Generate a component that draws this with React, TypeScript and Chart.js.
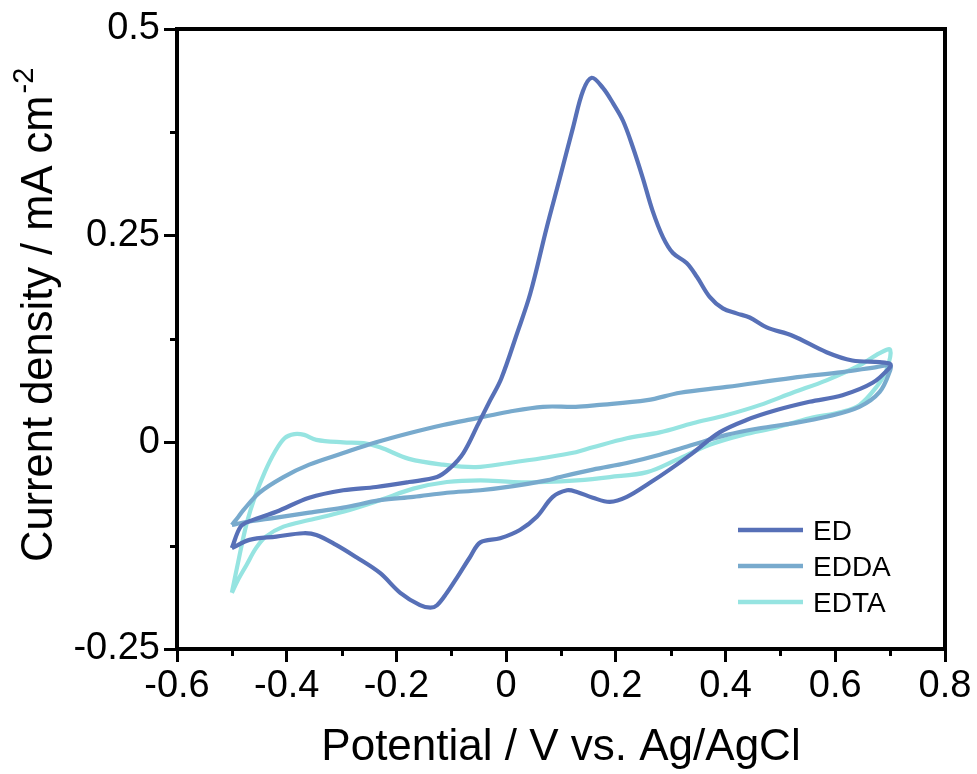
import React, { useEffect, useRef } from 'react';
import { Chart, registerables } from 'chart.js';

Chart.register(...registerables);

// ---- Data (Potential V vs. Ag/AgCl, current density mA cm^-2), closed CV loops ----
const edV = [
  -0.5, -0.484, -0.466, -0.419, -0.359, -0.297, -0.237, -0.177, -0.126, -0.102, -0.078, -0.051, -0.029, -0.009,
  0.02, 0.044, 0.074, 0.098, 0.122, 0.14, 0.156, 0.176, 0.195, 0.213, 0.231, 0.249, 0.267, 0.286, 0.304, 0.329,
  0.348, 0.371, 0.395, 0.42, 0.444, 0.475, 0.522, 0.584, 0.631, 0.681, 0.7,
  0.7, 0.668, 0.613, 0.553, 0.493, 0.438, 0.389, 0.34, 0.298, 0.262, 0.22, 0.189, 0.158, 0.129, 0.111, 0.085,
  0.056, 0.025, -0.011, -0.047, -0.066, -0.089, -0.108, -0.126, -0.138, -0.157, -0.193, -0.23, -0.273, -0.31,
  -0.346, -0.37, -0.419, -0.468, -0.5,
];
const edI = [
  -0.128, -0.102, -0.095, -0.084, -0.067, -0.058, -0.054, -0.048, -0.042, -0.031, -0.013, 0.022, 0.051, 0.077,
  0.132, 0.18, 0.26, 0.32, 0.381, 0.425, 0.441, 0.429, 0.41, 0.389, 0.357, 0.32, 0.28, 0.248, 0.229, 0.217,
  0.2, 0.176, 0.162, 0.156, 0.151, 0.139, 0.129, 0.109, 0.099, 0.097, 0.095,
  0.091, 0.072, 0.057, 0.049, 0.039, 0.027, 0.012, -0.013, -0.033, -0.049, -0.066, -0.072, -0.067, -0.06, -0.058, -0.066,
  -0.09, -0.106, -0.116, -0.121, -0.139, -0.163, -0.182, -0.197, -0.2, -0.197, -0.182, -0.158, -0.139, -0.124,
  -0.112, -0.11, -0.114, -0.118, -0.128,
];

const eddaV = [
  -0.5, -0.488, -0.479, -0.45, -0.406, -0.359, -0.297, -0.237, -0.177, -0.115, -0.055, 0.005, 0.067, 0.127, 0.165,
  0.257, 0.317, 0.402, 0.522, 0.613, 0.675, 0.7,
  0.7, 0.681, 0.644, 0.584, 0.522, 0.462, 0.402, 0.34, 0.28, 0.22, 0.158, 0.098, 0.074, 0.013, -0.047, -0.108,
  -0.169, -0.23, -0.297, -0.359, -0.419, -0.479, -0.5,
];
const eddaI = [
  -0.1, -0.09, -0.082, -0.061, -0.042, -0.027, -0.013, 0.0, 0.011, 0.021, 0.029, 0.037, 0.043, 0.043, 0.045,
  0.051, 0.06, 0.067, 0.078, 0.085, 0.091, 0.093,
  0.087, 0.061, 0.043, 0.031, 0.023, 0.017, 0.009, -0.003, -0.015, -0.025, -0.033, -0.042, -0.046, -0.053, -0.058, -0.061,
  -0.066, -0.07, -0.079, -0.085, -0.091, -0.097, -0.1,
];

const edtaV = [
  -0.5, -0.487, -0.473, -0.458, -0.44, -0.422, -0.404, -0.386, -0.368, -0.346, -0.297, -0.26, -0.23, -0.177, -0.115,
  -0.055, 0.005, 0.067, 0.127, 0.158, 0.22, 0.28, 0.34, 0.402, 0.462, 0.522, 0.584, 0.644, 0.681, 0.7,
  0.693, 0.675, 0.644, 0.613, 0.553, 0.493, 0.431, 0.371, 0.311, 0.257, 0.189, 0.129, 0.074, 0.013, -0.047, -0.108,
  -0.169, -0.23, -0.297, -0.359, -0.406, -0.438, -0.456, -0.473, -0.49, -0.5,
];
const edtaI = [
  -0.182, -0.14, -0.098, -0.066, -0.036, -0.012, 0.005, 0.01, 0.009, 0.003, 0.0, -0.001, -0.006, -0.02, -0.027,
  -0.03, -0.025, -0.019, -0.012, -0.006, 0.005, 0.012, 0.023, 0.033, 0.045, 0.06, 0.075, 0.093, 0.108, 0.112,
  0.087, 0.067, 0.045, 0.037, 0.029, 0.018, 0.009, -0.003, -0.021, -0.036, -0.042, -0.046, -0.048, -0.048, -0.046, -0.048,
  -0.056, -0.07, -0.084, -0.094, -0.102, -0.114, -0.128, -0.148, -0.168, -0.182,
];

const seriesNames = ['ED', 'EDDA', 'EDTA'];
const seriesColors = ['#5770b7', '#78aacd', '#96e4e1'];
const xTicks = [-0.6, -0.4, -0.2, 0, 0.2, 0.4, 0.6, 0.8];
const xMinorTicks = [-0.5, -0.3, -0.1, 0.1, 0.3, 0.5, 0.7];
const yTicks = [-0.25, 0, 0.25, 0.5];
const yMinorTicks = [-0.125, 0.125, 0.375];
const xTitle = 'Potential / V vs. Ag/AgCl';
const yTitleMain = 'Current density / mA cm';
const yTitleSup = '-2';

const FONT = "'Liberation Sans', Arial, sans-serif";

function toPoints(xs: number[], ys: number[]) {
  return xs.map((x, i) => ({ x, y: ys[i] }));
}

const decorPlugin = {
  id: 'decor',
  afterDraw(chart: any) {
    const { ctx, chartArea, scales } = chart;
    const xs = scales.x;
    const ys = scales.y;
    ctx.save();
    // frame (top & right)
    ctx.strokeStyle = '#000';
    ctx.lineWidth = 4;
    ctx.beginPath();
    ctx.moveTo(chartArea.left - 2, chartArea.top);
    ctx.lineTo(chartArea.right, chartArea.top);
    ctx.lineTo(chartArea.right, chartArea.bottom + 2);
    ctx.stroke();
    // minor ticks
    ctx.lineWidth = 3;
    ctx.beginPath();
    xMinorTicks.forEach((v) => {
      const px = Math.round(xs.getPixelForValue(v)) + 0.5;
      ctx.moveTo(px, chartArea.bottom);
      ctx.lineTo(px, chartArea.bottom + 7);
    });
    yMinorTicks.forEach((v) => {
      const py = Math.round(ys.getPixelForValue(v)) + 0.5;
      ctx.moveTo(chartArea.left, py);
      ctx.lineTo(chartArea.left - 7, py);
    });
    ctx.stroke();

    // axis titles
    ctx.fillStyle = '#000';
    ctx.textBaseline = 'alphabetic';
    ctx.font = `44px ${FONT}`;
    ctx.textAlign = 'center';
    ctx.fillText(xTitle, (chartArea.left + chartArea.right) / 2, 760);

    ctx.save();
    ctx.translate(52, 562);
    ctx.rotate(-Math.PI / 2);
    ctx.textAlign = 'left';
    ctx.font = `43.5px ${FONT}`;
    ctx.fillText(yTitleMain, 0, 0);
    const w = ctx.measureText(yTitleMain).width;
    ctx.font = `29px ${FONT}`;
    ctx.fillText(yTitleSup, w + 2, -19);
    ctx.restore();

    // legend
    const lx0 = 738;
    const lx1 = 803;
    const ly = [530, 566, 602];
    seriesNames.forEach((name, i) => {
      ctx.strokeStyle = seriesColors[i];
      ctx.lineWidth = 4.5;
      ctx.beginPath();
      ctx.moveTo(lx0, ly[i]);
      ctx.lineTo(lx1, ly[i]);
      ctx.stroke();
      ctx.fillStyle = '#000';
      ctx.font = `28px ${FONT}`;
      ctx.textAlign = 'left';
      ctx.fillText(name, 813, ly[i] + 10);
    });
    ctx.restore();
  },
};

export default function App() {
  const ref = useRef<HTMLCanvasElement | null>(null);

  useEffect(() => {
    if (!ref.current) return;
    const datasets = [
      toPoints(edV, edI),
      toPoints(eddaV, eddaI),
      toPoints(edtaV, edtaI),
    ]
      .map((data, i) => ({
        label: seriesNames[i],
        data,
        showLine: true,
        borderColor: seriesColors[i],
        backgroundColor: seriesColors[i],
        borderWidth: 4.2,
        pointRadius: 0,
        tension: 0.35,
        fill: false,
        order: i,
      }))
      .reverse();

    const chart = new Chart(ref.current, {
      type: 'scatter',
      data: { datasets },
      options: {
        animation: false,
        responsive: false,
        devicePixelRatio: 1,
        layout: { padding: { left: 0, top: 29, right: 32, bottom: 0 } },
        plugins: { legend: { display: false }, tooltip: { enabled: false } },
        scales: {
          x: {
            type: 'linear',
            min: -0.6,
            max: 0.8,
            afterFit: (s: any) => {
              s.height = 125;
            },
            afterBuildTicks: (s: any) => {
              s.ticks = xTicks.map((v) => ({ value: v }));
            },
            border: { display: true, color: '#000', width: 4 },
            grid: { drawOnChartArea: false, drawTicks: true, tickLength: 13, tickWidth: 3, tickColor: '#000' },
            ticks: {
              color: '#000',
              font: { family: FONT, size: 38 },
              padding: 2,
              maxRotation: 0,
              autoSkip: false,
              callback: (v: any) => String(v),
            },
          },
          y: {
            type: 'linear',
            min: -0.25,
            max: 0.5,
            afterFit: (s: any) => {
              s.width = 177;
            },
            afterBuildTicks: (s: any) => {
              s.ticks = yTicks.map((v) => ({ value: v }));
            },
            border: { display: true, color: '#000', width: 4 },
            grid: { drawOnChartArea: false, drawTicks: true, tickLength: 13, tickWidth: 3, tickColor: '#000' },
            ticks: {
              color: '#000',
              font: { family: FONT, size: 38 },
              padding: 4,
              autoSkip: false,
              callback: (v: any) => String(v),
            },
          },
        },
      },
      plugins: [decorPlugin],
    } as any);
    return () => chart.destroy();
  }, []);

  return (
    <div style={{ position: 'fixed', left: 0, top: 0, width: 977, height: 774, background: '#fff' }}>
      <canvas ref={ref} width={977} height={774} style={{ width: 977, height: 774, display: 'block' }} />
    </div>
  );
}
